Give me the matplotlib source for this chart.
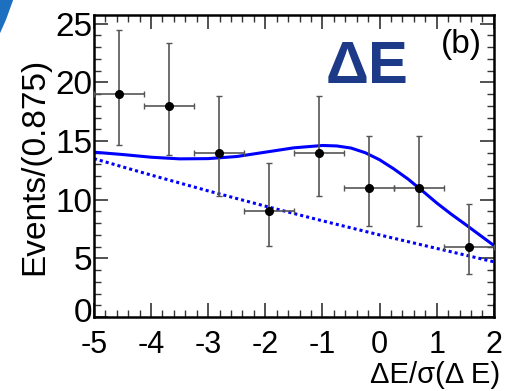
import matplotlib
matplotlib.use("Agg")
import matplotlib.pyplot as plt
from matplotlib.patches import Polygon
from matplotlib.ticker import MultipleLocator
from matplotlib.transforms import ScaledTranslation

plt.rcParams['font.family'] = ['Liberation Sans', 'DejaVu Sans']
plt.rcParams['axes.unicode_minus'] = False

# binned events, bin width 0.875 on [-5, 2]
bin_centers = [-4.5625, -3.6875, -2.8125, -1.9375, -1.0625, -0.1875, 0.6875, 1.5625]
half_width = 0.4375
events = [19, 18, 14, 9, 14, 11, 11, 6]
err_low = [14.68, 13.80, 10.31, 6.06, 10.31, 7.74, 7.74, 3.63]
err_high = [24.44, 23.33, 18.84, 13.12, 18.84, 15.43, 15.43, 9.60]

# total fit (signal + background)
fit_x = [-5.0, -4.5, -4.0, -3.5, -3.0, -2.5, -2.0, -1.5, -1.0, -0.75, -0.5,
         -0.25, 0.0, 0.25, 0.5, 0.75, 1.0, 1.25, 1.5, 1.75, 2.0]
fit_y = [14.05, 13.85, 13.62, 13.48, 13.50, 13.68, 14.05, 14.42, 14.62, 14.58, 14.40,
         14.00, 13.40, 12.62, 11.75, 10.75, 9.72, 8.78, 7.90, 7.00, 6.10]

# background component
bkg_x = [-5.0, -4.0, -3.0, -2.0, -1.0, 0.0, 1.0, 2.0]
bkg_y = [13.50, 12.10, 10.75, 9.45, 8.20, 7.00, 5.85, 4.71]

y_ticks = [0, 5, 10, 15, 20, 25]

fig = plt.figure(figsize=(5.05, 3.91), dpi=100)
ax = fig.add_axes([0.186, 0.189, 0.792, 0.7716])

lo = [e - l for e, l in zip(events, err_low)]
hi = [h - e for e, h in zip(events, err_high)]
ax.errorbar(bin_centers, events, yerr=[lo, hi], xerr=half_width, fmt='o',
            color='black', ms=5.5, ecolor='#555555', elinewidth=1.2,
            capsize=2, capthick=1.0, zorder=3)

ax.plot(fit_x, fit_y, color='#0000ff', lw=2.2, zorder=2)
ax.plot(bkg_x, bkg_y, color='#0000ff', lw=2.2, linestyle=(0, (1, 1)), zorder=2)

ax.set_xlim(-5, 2)
ax.set_ylim(0, 25.7)
ax.xaxis.set_major_locator(MultipleLocator(1))
ax.xaxis.set_minor_locator(MultipleLocator(0.2))
ax.set_yticks(y_ticks)
ax.yaxis.set_minor_locator(MultipleLocator(1))
ax.tick_params(which='both', direction='in', top=True, right=True, color='#333333')
ax.tick_params(which='major', length=10, width=1.2)
ax.tick_params(which='minor', length=5, width=1.0)
ax.tick_params(axis='x', labelsize=22, pad=9)
ax.tick_params(axis='y', labelsize=24, pad=1)
for s in ax.spines.values():
    s.set_linewidth(1.8)

# lift the "0" label a little so it clears the x labels
zero_label = ax.yaxis.get_major_ticks()[0].label1
zero_label.set_transform(zero_label.get_transform() + ScaledTranslation(0, 5 / 72, fig.dpi_scale_trans))

ax.set_ylabel('Events/(0.875)', fontsize=24, labelpad=4)
fig.text(0.99, 0.005, 'ΔE/σ(Δ E)', fontsize=21, ha='right', va='bottom')

ax.text(0.58, 0.776, 'ΔE', transform=ax.transAxes, fontsize=43, fontweight='bold',
        color='#1c3a87', va='baseline', ha='left')
ax.text(0.97, 0.905, '(b)', transform=ax.transAxes, fontsize=24, ha='right', va='center')

# blue corner from the slide background
corner = Polygon([(0, 1), (0.026, 1), (0.012, 0.95), (0, 0.915)], closed=True,
                 transform=fig.transFigure, color='#1d6fc0', lw=0)
fig.patches.append(corner)

fig.savefig('out.png', dpi=100)
